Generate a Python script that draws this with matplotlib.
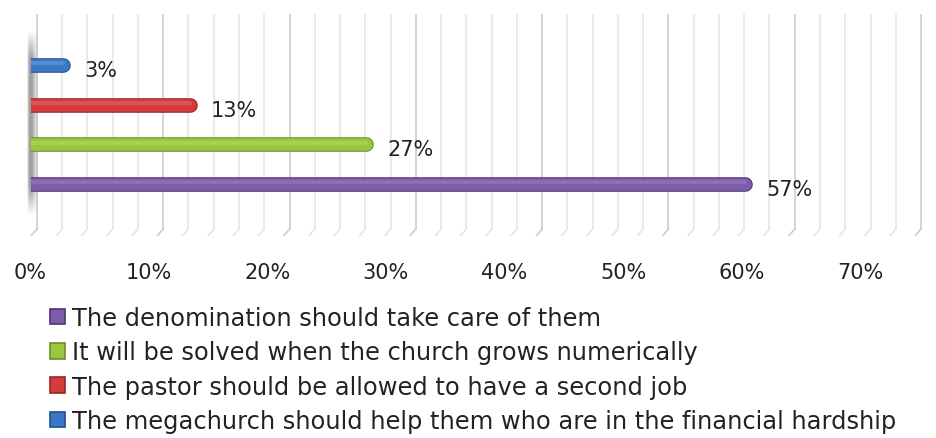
import numpy as np
import matplotlib
matplotlib.use("Agg")
import matplotlib.pyplot as plt
import matplotlib.patheffects as pe
from matplotlib.patches import Patch, Rectangle

# data (bottom bar first)
categories = [
    "The denomination should take care of them",
    "It will be solved when the church grows numerically",
    "The pastor should be allowed to have a second job",
    "The megachurch should help them who are in the financial hardship",
]
values = [57, 27, 13, 3]
colors = ["#7e5ca8", "#9cc63e", "#d43c3c", "#3a78c6"]
edge_colors = ["#4f3478", "#68902a", "#962626", "#22508e"]
light_colors = ["#9d80c4", "#b6da66", "#e66a6a", "#6aa0e0"]
ticks = [0, 10, 20, 30, 40, 50, 60, 70]
tick_labels = ["0%", "10%", "20%", "30%", "40%", "50%", "60%", "70%"]

plt.rcParams["font.family"] = ["DejaVu Sans"]

fig = plt.figure(figsize=(9.37, 4.39), dpi=100)
W, H = 937, 439
px = 12.63          # pixels per percent on the bar plane
x0 = 31             # pixel of 0 %
xmin, xmax = -0.5, 70.8
left = x0 + xmin * px
ax = fig.add_axes([left / W, 1 - 237 / H, (xmax - xmin) * px / W, (237 - 15) / H])
ax.set_xlim(xmin, xmax)
ax.set_ylim(-1.31, 4.28)
for s in ax.spines.values():
    s.set_visible(False)
ax.set_yticks([])
ax.set_xticks([])

# back wall grid (every 2 %) with small floor diagonals
off = 0.47
wall_bottom = -1.13
for g in np.arange(0, 71, 2):
    c = "#cdcdcd" if g % 10 == 0 else "#e6e6e6"
    ax.plot([g + off, g + off], [wall_bottom, 4.28], color=c, lw=1.2, zorder=1)
    ax.plot([g + off, g], [wall_bottom, -1.31], color=c, lw=1.2, zorder=1)

# shaded side wall
gx = np.linspace(0, 1, 60)
prof = np.clip(np.minimum(gx / 0.2, (1 - gx) / 0.55), 0, 1)
gy = np.linspace(0, 1, 80)
vert = np.clip(np.minimum(gy / 0.15, (1 - gy) / 0.15), 0, 1)
img = np.zeros((80, 60, 4))
img[..., :3] = 0.5
img[..., 3] = vert[:, None] * prof[None, :] * 0.75
ax.imshow(img, extent=(-0.3, 0.5, -0.8, 3.88), aspect="auto", zorder=2, interpolation="bilinear")

# cylinder-like bars, flat at the wall, rounded at the end
clip = Rectangle((0, -2), 100, 10, transform=ax.transData, visible=False)
ax.add_patch(clip)
for i, (v, c, ec, lc) in enumerate(zip(values, colors, edge_colors, light_colors)):
    body, = ax.plot([0, v - 0.45], [i, i], color=c, lw=9, solid_capstyle="round", zorder=3,
                    path_effects=[pe.Stroke(linewidth=10.5, foreground=ec), pe.Normal()])
    shine, = ax.plot([0, v - 0.45], [i + 0.04, i + 0.04], color=lc, lw=3, solid_capstyle="round",
                     alpha=0.5, zorder=4)
    body.set_clip_path(clip)
    shine.set_clip_path(clip)
    ax.text(v + 1.2, i - 0.13, f"{v}%", fontsize=15, va="center", ha="left", color="#222222")

# tick labels drawn on the front plane (slightly compressed scale)
pf = 11.86
fwd = lambda d: (px * d + x0 - 30) / pf
inv = lambda s: (pf * s + 30 - x0) / px
sec = ax.secondary_xaxis("bottom", functions=(fwd, inv))
sec.set_xticks(ticks)
sec.set_xticklabels(tick_labels)
sec.tick_params(length=0, pad=19, labelsize=15, labelcolor="#222222")
sec.spines["bottom"].set_visible(False)

handles = [Patch(facecolor=c, edgecolor=ec, linewidth=1.2) for c, ec in zip(colors, edge_colors)]
fig.legend(handles, categories, loc="upper left", bbox_to_anchor=(50 / W, 1 - 307 / H),
           frameon=False, fontsize=17.4, handlelength=0.62, handleheight=0.62,
           handletextpad=0.3, labelspacing=0.43, borderaxespad=0, borderpad=0,
           labelcolor="#222222")

fig.savefig("out.png", dpi=100)
